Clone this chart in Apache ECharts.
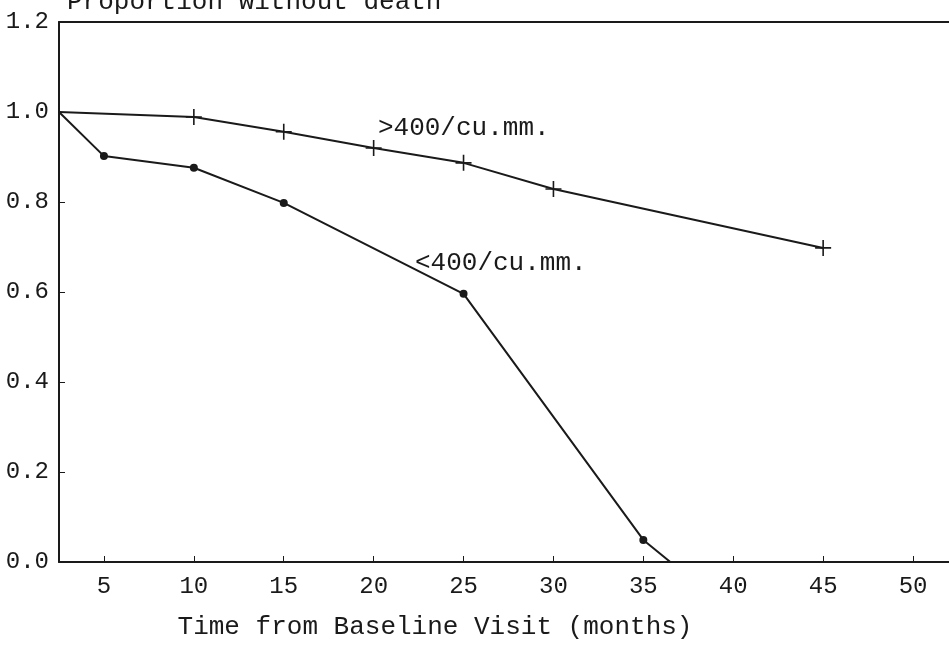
<!DOCTYPE html>
<html>
<head>
<meta charset="utf-8">
<script src="https://cdn.jsdelivr.net/npm/echarts@6/dist/echarts.min.js"></script>
<style>
  html, body { margin: 0; padding: 0; background: #fff; }
  #main { width: 949px; height: 646px; }
</style>
</head>
<body>
<div id="main"></div>
<script>
// survival curves by CD4 count
const timeHigh = [2.5, 10, 15, 20, 25, 30, 45];
const propHigh = [1.0, 0.989, 0.956, 0.92, 0.887, 0.829, 0.698];
const timeLow = [2.5, 5, 10, 15, 25, 35, 36.5];
const propLow = [1.0, 0.902, 0.876, 0.798, 0.596, 0.049, 0.0];
const xTicks = [5, 10, 15, 20, 25, 30, 35, 40, 45, 50];
const labelHigh = '>400/cu.mm.';
const labelLow = '<400/cu.mm.';

const ink = '#1a1a1a';
const mono = '"Liberation Mono", "DejaVu Sans Mono", monospace';
const plusPath = 'path://M9,0h2v9h9v2h-9v9h-2v-9h-9v-2h9z';

// first point is the start of the curve, no marker there
function toPoints(xs, ys, markLast) {
  return xs.map((x, i) => {
    let p = { value: [x, ys[i]] };
    if (i === 0 || (!markLast && i === xs.length - 1)) p.symbol = 'none';
    return p;
  });
}

function curveLabel(text, coord) {
  return {
    symbol: 'circle',
    symbolSize: 0,
    label: {
      show: true,
      position: 'right',
      distance: 0,
      fontFamily: mono,
      fontSize: 26,
      color: ink,
      formatter: (p) => p.name,
    },
    data: [{ name: text, coord: coord }],
  };
}

var chartDom = document.getElementById('main');
var myChart = echarts.init(chartDom);

var option = {
  animation: false,
  backgroundColor: '#fff',
  title: {
    text: 'Proportion without death',
    left: 62,
    top: -16,
    textStyle: { fontFamily: mono, fontSize: 26, fontWeight: 'normal', color: ink },
  },
  grid: {
    left: 59,
    right: 0,
    top: 22,
    bottom: 84,
  },
  xAxis: [
    {
      type: 'value',
      min: 2.5,
      max: 52,
      name: 'Time from Baseline Visit (months)',
      nameLocation: 'middle',
      nameGap: 52,
      nameTextStyle: {
        fontFamily: mono,
        fontSize: 26,
        color: ink,
        padding: [0, 138, 0, 0],
      },
      axisLine: { show: true, lineStyle: { color: ink, width: 2 } },
      axisTick: {
        show: true,
        inside: true,
        length: 6,
        customValues: xTicks,
        lineStyle: { color: ink, width: 1 },
      },
      axisLabel: {
        customValues: xTicks,
        fontFamily: mono,
        fontSize: 24,
        color: ink,
        margin: 13,
      },
      splitLine: { show: false },
    },
    {
      type: 'value',
      position: 'top',
      min: 2.5,
      max: 52,
      axisLine: { show: true, lineStyle: { color: ink, width: 2 } },
      axisTick: { show: false },
      axisLabel: { show: false },
      splitLine: { show: false },
    },
  ],
  yAxis: {
    type: 'value',
    min: 0,
    max: 1.2,
    interval: 0.2,
    axisLine: { show: true, lineStyle: { color: ink, width: 2 } },
    axisTick: { show: true, inside: true, length: 6, lineStyle: { color: ink } },
    axisLabel: {
      fontFamily: mono,
      fontSize: 24,
      color: ink,
      margin: 10,
      formatter: (v) => v.toFixed(1),
    },
    splitLine: { show: false },
  },
  series: [
    {
      type: 'line',
      data: toPoints(timeHigh, propHigh, true),
      symbol: plusPath,
      symbolSize: 16,
      lineStyle: { color: ink, width: 2 },
      itemStyle: { color: ink },
      markPoint: curveLabel(labelHigh, [20.24, 0.964]),
    },
    {
      type: 'line',
      data: toPoints(timeLow, propLow, false),
      symbol: 'circle',
      symbolSize: 8,
      lineStyle: { color: ink, width: 2 },
      itemStyle: { color: ink },
      markPoint: curveLabel(labelLow, [22.3, 0.664]),
    },
  ],
};

option && myChart.setOption(option);
</script>
</body>
</html>
